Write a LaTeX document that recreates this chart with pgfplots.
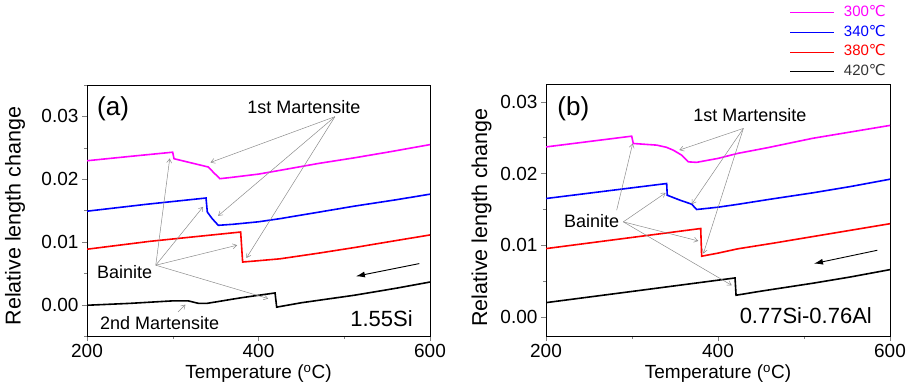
\documentclass[border=0pt]{standalone}
\usepackage{fontspec}
\setmainfont{Liberation Sans}
\newfontfamily\dejavu{DejaVu Sans}
\usepackage{pgfplots}
\pgfplotsset{compat=1.18}
\usetikzlibrary{arrows.meta}
\definecolor{mag}{RGB}{255,0,255}
\definecolor{blu}{RGB}{0,0,255}
\definecolor{rd}{RGB}{255,0,0}
\definecolor{annot}{RGB}{140,140,140}

\pgfplotsset{
 myaxis/.style={
  scale only axis,
  xmin=200,xmax=600,
  xtick={200,400,600}, minor xtick={300,500},
  ytick={0,0.01,0.02,0.03}, minor ytick={-0.005,0.005,0.015,0.025,0.035},
  tick align=outside, xtick pos=bottom, ytick pos=left,
  major tick length=5pt, minor tick length=3pt,
  scaled y ticks=false,
  /pgf/number format/assume math mode=true,
  y tick label style={/pgf/number format/.cd,fixed,fixed zerofill,precision=2,/tikz/.cd},
  tick label style={font=\fontsize{19}{22}\selectfont},
  xlabel={Temperature (\textsuperscript{o}C)},
  xlabel style={font=\fontsize{19}{22}\selectfont, at={(axis description cs:0.5,-0.151)}, anchor=center},
  ylabel={Relative length change},
  every axis plot/.append style={line width=1.6pt, mark=none},
 },
 shortline/.style={legend image code/.code={\draw[##1,line width=0.9pt] (0pt,0pt) -- (44pt,0pt);}},
}
\tikzset{
 ann/.style={draw=annot, line width=0.5pt, -{Straight Barb[length=4pt,width=5pt]}},
 blk/.style={draw=black, line width=0.9pt, -{Latex[length=9pt,width=6pt]}},
 lab/.style={font=\fontsize{18}{20}\selectfont},
}

\begin{document}
\begin{tikzpicture}
\useasboundingbox (0pt,0pt) rectangle (910pt,-390pt);

% ---------------- panel (a) ----------------
\begin{axis}[myaxis,
  at={(87pt,-336pt)}, anchor=south west,
  width=343pt, height=251pt,
  ymin=-0.005, ymax=0.035,
  ylabel style={font=\fontsize{21.5}{24}\selectfont, at={(axis description cs:-0.21,0.478)}, anchor=center},
]
\addplot[mag] coordinates {(200,0.02293) (250,0.02362) (299.9,0.02429) (301.5,0.02325) (341.5,0.02193) (348,0.0210) (355.1,0.02007) (370,0.0203) (400,0.0208) (425,0.0214) (470,0.0225) (512,0.0234) (555,0.0244) (600,0.0255)};
\addplot[blu] coordinates {(200,0.01489) (270,0.0160) (338.8,0.01699) (340.3,0.01476) (346,0.0137) (353.1,0.01264) (370,0.0128) (400,0.0132) (425,0.0137) (460,0.0145) (512,0.0157) (560,0.0167) (600,0.0176)};
\addplot[rd] coordinates {(200,0.00883) (273.5,0.01009) (379.2,0.01157) (381.5,0.00679) (400,0.0070) (425,0.0073) (470,0.0082) (512,0.0091) (560,0.0102) (600,0.0111)};
\addplot[black] coordinates {(200,-0.0001) (250,0.0002) (300,0.0006) (318,0.0006) (330,0.0002) (340,0.0002) (380,0.0011) (419.3,0.00186) (421.2,-0.0004) (450,0.0003) (512,0.0015) (560,0.0026) (600,0.0036)};

\node[font=\fontsize{26}{28}\selectfont] at (axis cs:230.4,0.03128) {(a)};
\node[lab] at (axis cs:452.9,0.03154) {1st Martensite};
\draw[ann] (axis cs:489.1,0.02995) -- (axis cs:344,0.02266);
\draw[ann] (axis cs:489.1,0.02995) -- (axis cs:352.9,0.01415);
\draw[ann] (axis cs:489.1,0.02995) -- (axis cs:386,0.00745);
\node[lab] at (axis cs:244,0.00521) {Bainite};
\draw[ann] (axis cs:280.2,0.00628) -- (axis cs:296.5,0.0233);
\draw[ann] (axis cs:280.2,0.00628) -- (axis cs:335.4,0.01559);
\draw[ann] (axis cs:280.2,0.00628) -- (axis cs:375.1,0.00947);
\draw[ann] (axis cs:280.2,0.00628) -- (axis cs:411.3,0.00096);
\node[lab] at (axis cs:284.8,-0.00287) {2nd Martensite};
\draw[ann] (axis cs:306.2,-0.00117) -- (axis cs:314.8,0.0);
\node[font=\fontsize{22}{24}\selectfont, anchor=east] at (axis cs:584,-0.00223) {1.55Si};
\draw[blk] (axis cs:587.5,0.00654) -- (axis cs:513.6,0.00452);
\end{axis}

% ---------------- panel (b) ----------------
\begin{axis}[myaxis,
  at={(546pt,-336pt)}, anchor=south west,
  width=344pt, height=252pt,
  ymin=-0.00265, ymax=0.03247,
  ylabel style={font=\fontsize{21.5}{24}\selectfont, at={(axis description cs:-0.187,0.470)}, anchor=center},
  legend style={draw=none, fill=none, at={(axis description cs:1,1)}, anchor=south east,
     xshift=0pt, yshift=2pt,
     font=\fontsize{15}{18}\selectfont,
     nodes={inner sep=1pt, text height=11pt, text depth=3pt},
     row sep=3.8pt, column sep=8pt},
  legend cell align=left,
  shortline,
]
\addplot[mag] coordinates {(200,0.0237) (299.6,0.0252) (301.5,0.02418) (328.7,0.02395) (340,0.02365) (348,0.02325) (357.8,0.02255) (365.5,0.02162) (375,0.02155) (400,0.0221) (423,0.0228) (458,0.0236) (510,0.0249) (555,0.0258) (600,0.0267)};
\addlegendentry{\textcolor{mag}{300{\dejavu ℃}}}
\addplot[blu] coordinates {(200,0.01651) (340.3,0.0186) (341,0.01697) (355.8,0.01628) (369.4,0.01572) (375.2,0.01498) (400,0.0153) (423,0.0157) (460,0.0164) (510,0.0173) (555,0.0182) (600,0.0192)};
\addlegendentry{\textcolor{blu}{340{\dejavu ℃}}}
\addplot[rd] coordinates {(200,0.00953) (379.9,0.01233) (381,0.00847) (400,0.0089) (423,0.0095) (465,0.0103) (510,0.0112) (555,0.0121) (600,0.0130)};
\addlegendentry{\textcolor{rd}{380{\dejavu ℃}}}
\addplot[black] coordinates {(200,0.0020) (300,0.00356) (419.8,0.00544) (421,0.00303) (450,0.0036) (510,0.0047) (555,0.0056) (600,0.0066)};
\addlegendentry{\textcolor{black!80}{420{\dejavu ℃}}}

\node[font=\fontsize{26}{28}\selectfont] at (axis cs:231.8,0.02907) {(b)};
\node[lab] at (axis cs:437.2,0.02814) {1st Martensite};
\draw[ann] (axis cs:429.5,0.02628) -- (axis cs:355,0.02326);
\draw[ann] (axis cs:429.5,0.02628) -- (axis cs:369.4,0.01572);
\draw[ann] (axis cs:429.5,0.02628) -- (axis cs:383,0.00884);
\node[lab] at (axis cs:253.1,0.0134) {Bainite};
\draw[ann] (axis cs:282.2,0.01488) -- (axis cs:300.8,0.02419);
\draw[ann] (axis cs:289.9,0.01326) -- (axis cs:339.1,0.0173);
\draw[ann] (axis cs:289.9,0.01326) -- (axis cs:377.1,0.0106);
\draw[ann] (axis cs:289.9,0.01326) -- (axis cs:415.9,0.00442);
\node[font=\fontsize{22}{24}\selectfont, anchor=east] at (axis cs:583,0.00023) {0.77Si-0.76Al};
\draw[blk] (axis cs:585.3,0.0093) -- (axis cs:511.6,0.00744);
\end{axis}
\end{tikzpicture}
\end{document}
